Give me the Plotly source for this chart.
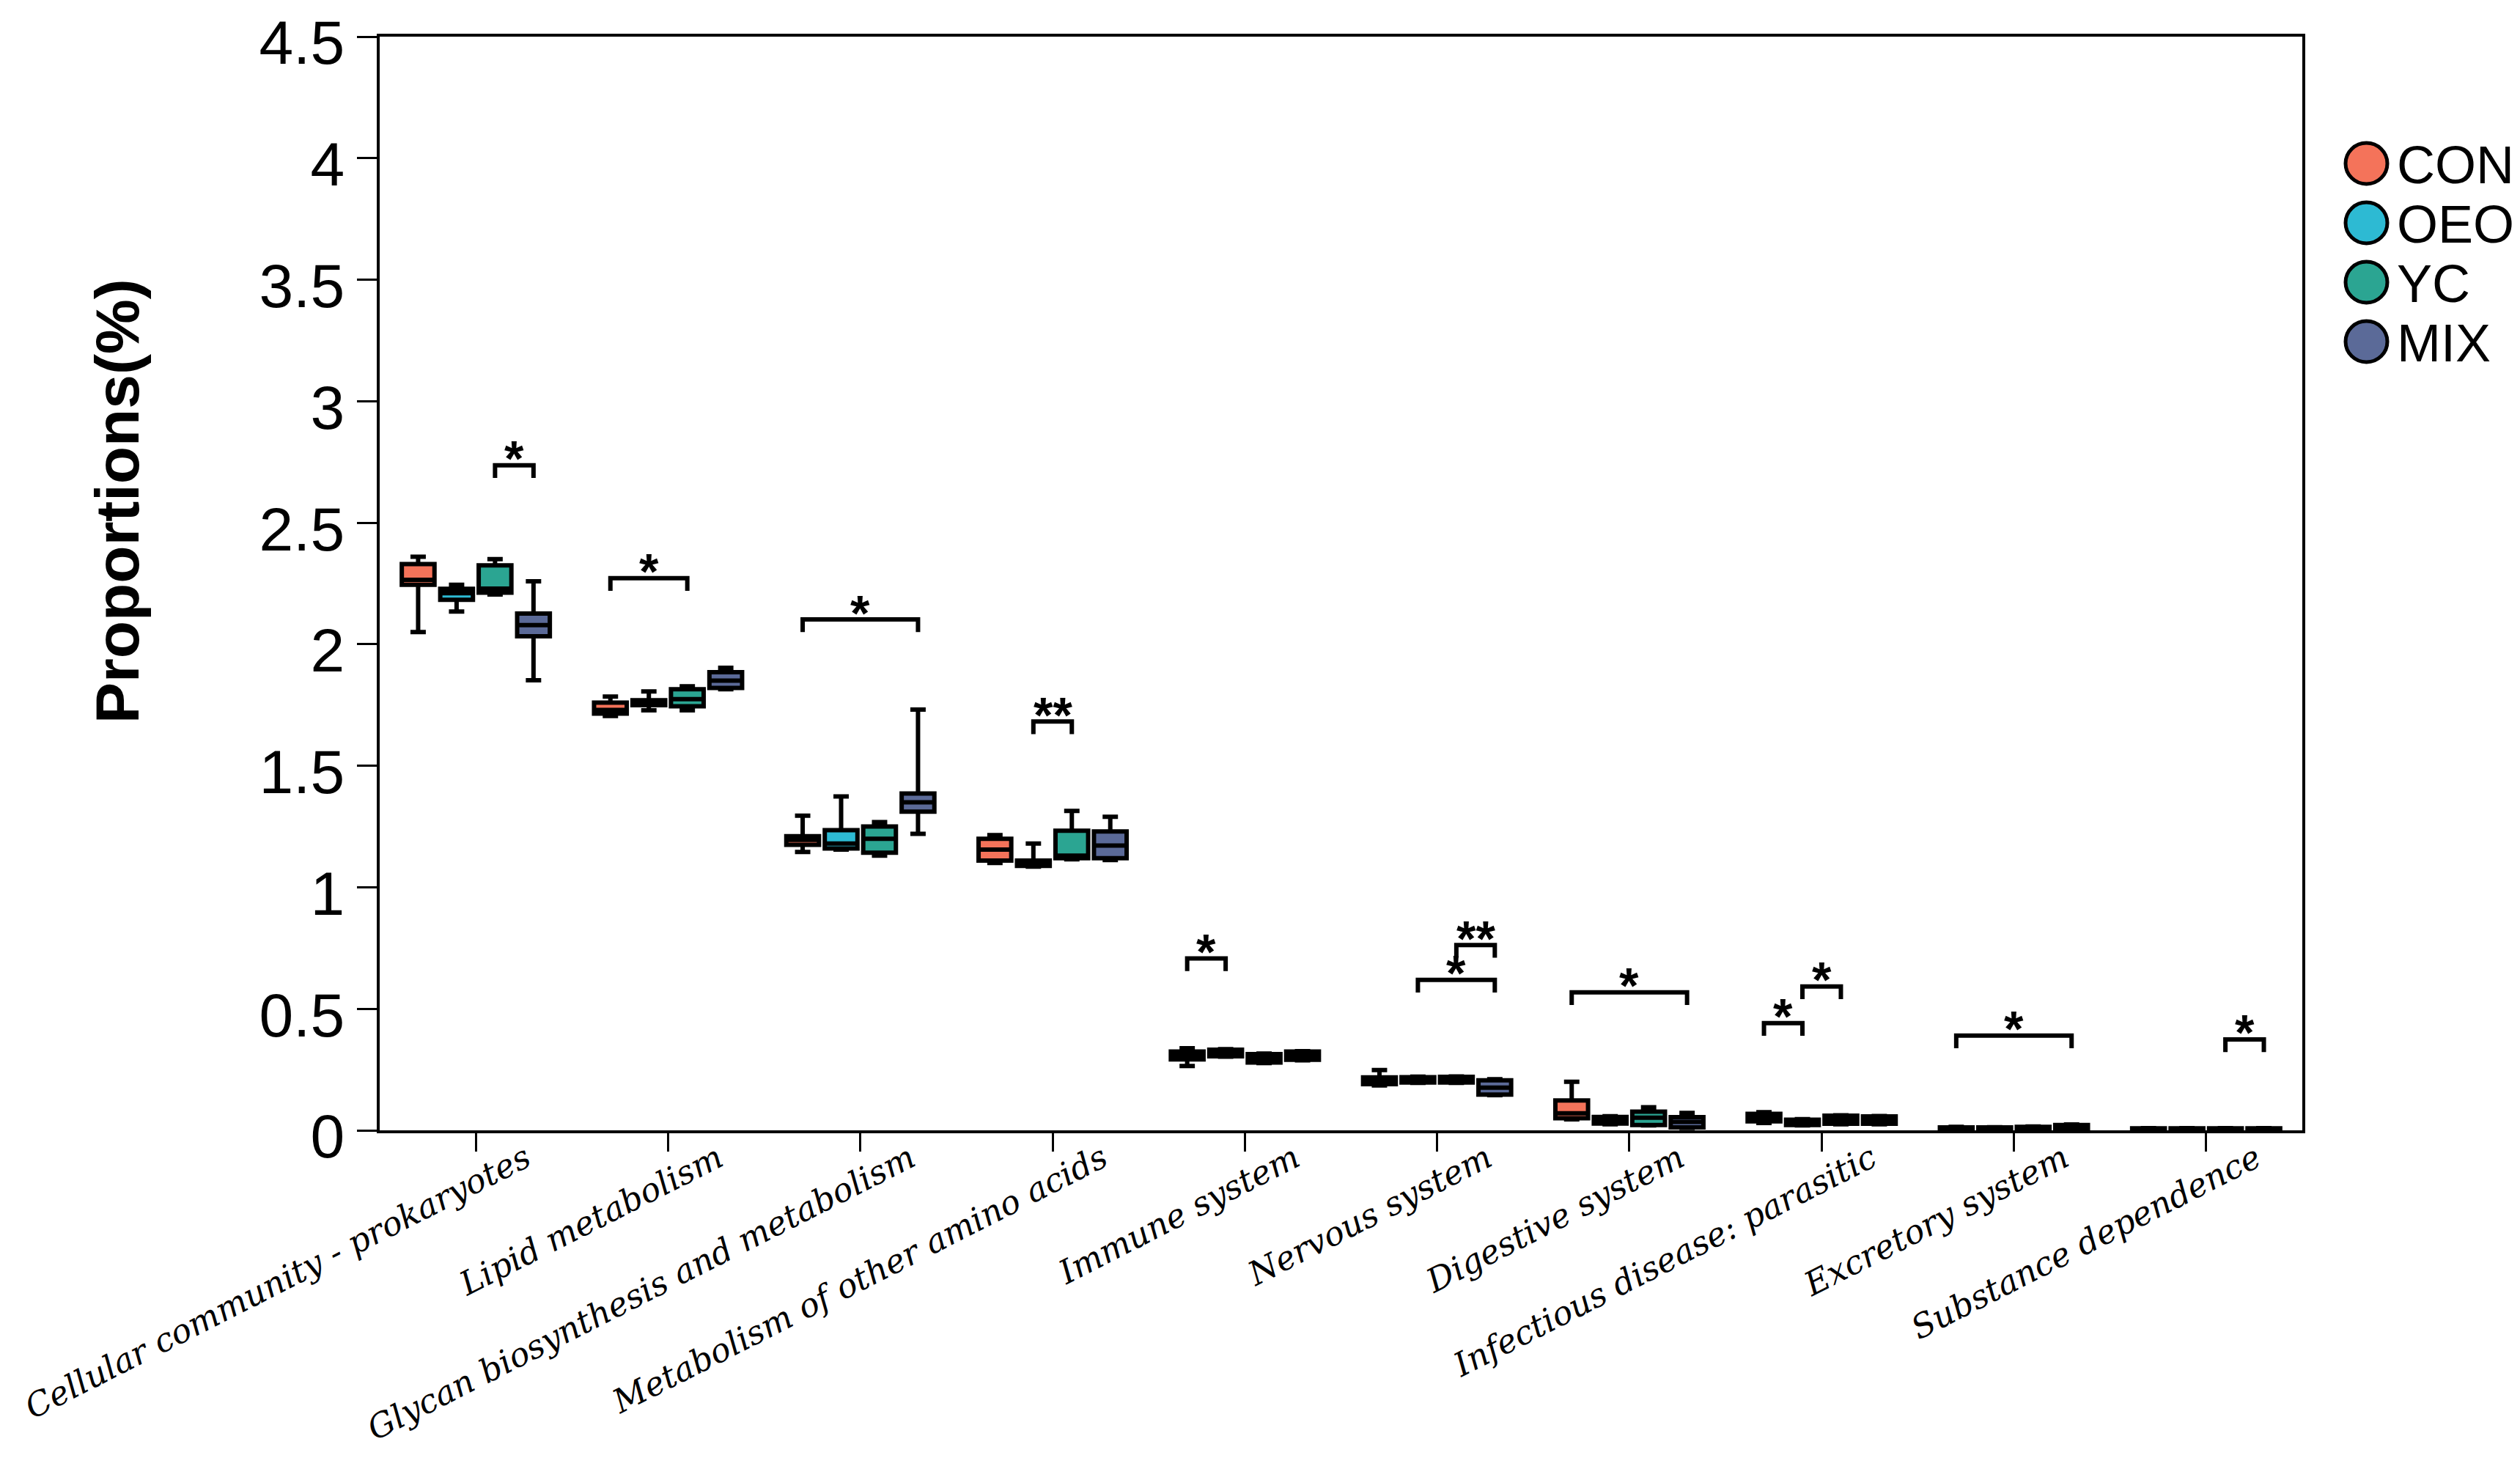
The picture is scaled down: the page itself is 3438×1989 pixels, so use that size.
import plotly.graph_objects as go

categories = [
    "Cellular community - prokaryotes", "Lipid metabolism",
    "Glycan biosynthesis and metabolism", "Metabolism of other amino acids",
    "Immune system", "Nervous system", "Digestive system",
    "Infectious disease: parasitic", "Excretory system", "Substance dependence",
]
groups = ["CON", "OEO", "YC", "MIX"]
colors = ["#F4735A", "#2DBAD3", "#2BA592", "#5B6A98"]

con_lf = [2.050, 1.705, 1.145, 1.100, 0.265, 0.185, 0.045, 0.030, 0.002, 0.001]
con_q1 = [2.245, 1.715, 1.175, 1.110, 0.292, 0.190, 0.050, 0.037, 0.004, 0.002]
con_md = [2.265, 1.730, 1.195, 1.155, 0.310, 0.205, 0.070, 0.055, 0.007, 0.004]
con_q3 = [2.330, 1.760, 1.210, 1.200, 0.324, 0.218, 0.123, 0.068, 0.012, 0.008]
con_uf = [2.360, 1.785, 1.295, 1.215, 0.338, 0.248, 0.200, 0.075, 0.014, 0.009]

oeo_lf = [2.135, 1.728, 1.155, 1.085, 0.303, 0.195, 0.025, 0.020, 0.003, 0.001]
oeo_q1 = [2.183, 1.749, 1.160, 1.088, 0.305, 0.197, 0.028, 0.022, 0.005, 0.002]
oeo_md = [2.210, 1.760, 1.180, 1.095, 0.318, 0.209, 0.040, 0.033, 0.008, 0.004]
oeo_q3 = [2.228, 1.770, 1.235, 1.110, 0.332, 0.219, 0.055, 0.044, 0.012, 0.008]
oeo_uf = [2.245, 1.806, 1.374, 1.180, 0.334, 0.221, 0.058, 0.046, 0.013, 0.009]

yc_lf = [2.205, 1.728, 1.130, 1.115, 0.277, 0.195, 0.020, 0.025, 0.003, 0.001]
yc_q1 = [2.212, 1.745, 1.142, 1.120, 0.279, 0.197, 0.022, 0.027, 0.005, 0.002]
yc_md = [2.229, 1.774, 1.200, 1.130, 0.297, 0.210, 0.052, 0.045, 0.009, 0.004]
yc_q3 = [2.325, 1.815, 1.250, 1.233, 0.314, 0.220, 0.077, 0.060, 0.014, 0.008]
yc_uf = [2.350, 1.827, 1.268, 1.314, 0.316, 0.222, 0.095, 0.062, 0.016, 0.009]

mix_lf = [1.852, 1.815, 1.220, 1.112, 0.288, 0.145, 0.010, 0.025, 0.006, 0.001]
mix_q1 = [2.033, 1.820, 1.311, 1.120, 0.290, 0.147, 0.012, 0.027, 0.008, 0.002]
mix_md = [2.079, 1.850, 1.350, 1.172, 0.308, 0.176, 0.035, 0.045, 0.014, 0.004]
mix_q3 = [2.126, 1.885, 1.386, 1.230, 0.324, 0.206, 0.054, 0.057, 0.022, 0.008]
mix_uf = [2.259, 1.903, 1.731, 1.290, 0.326, 0.210, 0.072, 0.059, 0.024, 0.009]

# significance brackets: category index, from group, to group, bracket height, label
sig_cat = [0, 1, 2, 3, 4, 5, 5, 6, 7, 7, 8, 9]
sig_from = [2, 0, 0, 1, 0, 1, 2, 0, 0, 1, 0, 2]
sig_to = [3, 2, 3, 2, 1, 3, 3, 3, 1, 2, 3, 3]
sig_y = [2.736, 2.272, 2.102, 1.682, 0.707, 0.619, 0.762, 0.568, 0.441, 0.592, 0.390, 0.374]
sig_label = ["*", "*", "*", "**", "*", "*", "**", "*", "*", "*", "*", "*"]

y_ticks = [0, 0.5, 1, 1.5, 2, 2.5, 3, 3.5, 4, 4.5]

stats = [
    (con_lf, con_q1, con_md, con_q3, con_uf),
    (oeo_lf, oeo_q1, oeo_md, oeo_q3, oeo_uf),
    (yc_lf, yc_q1, yc_md, yc_q3, yc_uf),
    (mix_lf, mix_q1, mix_md, mix_q3, mix_uf),
]

W, H = 3438, 1989
ML, MR, MT, MB = 510, 305, 42, 455
PW, PH = W - ML - MR, H - MT - MB

BOXGAP = 0.2
slot = (1 - BOXGAP) / len(groups)
offsets = [-(1 - BOXGAP) / 2 + slot * (i + 0.5) for i in range(len(groups))]

fig = go.Figure()
xs = list(range(len(categories)))
for g, name in enumerate(groups):
    lf, q1, md, q3, uf = stats[g]
    fig.add_trace(go.Box(
        x=xs, lowerfence=lf, q1=q1, median=md, q3=q3, upperfence=uf,
        name=name, fillcolor=colors[g],
        line=dict(color="black", width=6),
        whiskerwidth=0.47, showlegend=False, boxpoints=False,
    ))

# brackets
LEG = 0.052
bx, by = [], []
for c, a, b, yv in zip(sig_cat, sig_from, sig_to, sig_y):
    x0 = c + offsets[a]
    x1 = c + offsets[b]
    bx += [x0, x0, x1, x1, None]
    by += [yv - LEG, yv, yv, yv - LEG, None]
fig.add_trace(go.Scatter(x=bx, y=by, mode="lines",
                         line=dict(color="black", width=6),
                         showlegend=False, hoverinfo="skip"))

annotations = []
for c, a, b, yv, lab in zip(sig_cat, sig_from, sig_to, sig_y, sig_label):
    xm = c + (offsets[a] + offsets[b]) / 2
    annotations.append(dict(
        x=xm, y=yv + 0.065, xref="x", yref="y", text=lab, showarrow=False,
        font=dict(family="Liberation Sans", size=68, color="black", weight="bold"),
        xanchor="center", yanchor="middle", yshift=-12,
    ))

# y-axis title
def px_to_paper(px, py):
    return (px - ML) / PW, (H - MB - py) / PH

tx, ty = px_to_paper(152, 676)
annotations.append(dict(
    x=tx, y=ty, xref="paper", yref="paper", text="Proportions(%)",
    textangle=-90, showarrow=False, xanchor="center", yanchor="middle",
    font=dict(family="Liberation Sans", size=84, color="black", weight="bold"),
))

# manual legend
shapes = []
legend_rows = [215, 296, 377, 458]
for g, name in enumerate(groups):
    cy = legend_rows[g]
    x0, y0 = px_to_paper(3192, cy + 28)
    x1, y1 = px_to_paper(3249, cy - 28)
    shapes.append(dict(type="circle", xref="paper", yref="paper",
                       x0=x0, y0=y0, x1=x1, y1=y1,
                       fillcolor=colors[g], line=dict(color="black", width=5)))
    lx, ly = px_to_paper(3260, cy + 2)
    annotations.append(dict(
        x=lx, y=ly, xref="paper", yref="paper", text=name, showarrow=False,
        xanchor="left", yanchor="middle",
        font=dict(family="Liberation Sans", size=72, color="black"),
    ))

fig.update_layout(
    width=W, height=H,
    margin=dict(l=ML, r=MR, t=MT, b=MB, autoexpand=False),
    paper_bgcolor="white", plot_bgcolor="white",
    boxmode="group", boxgap=BOXGAP, boxgroupgap=0.15,
    annotations=annotations, shapes=shapes,
    showlegend=False,
)
fig.update_xaxes(
    range=[-0.5, len(categories) - 0.5], tickmode="array",
    tickvals=xs, ticktext=categories, tickangle=-27,
    showline=True, linewidth=4, linecolor="black", mirror=True,
    ticks="outside", ticklen=25, tickwidth=3, tickcolor="black",
    showgrid=False, zeroline=False, ticklabeloverflow="allow",
    tickfont=dict(family="DejaVu Serif", size=45, color="black", style="italic"),
    ticklabelshift=68, ticklabelstandoff=-34,
)
fig.update_yaxes(
    range=[0, 4.5], tickmode="array", tickvals=y_ticks,
    ticktext=[f"{v:g}" for v in y_ticks],
    showline=True, linewidth=4, linecolor="black", mirror=True,
    ticks="outside", ticklen=27, tickwidth=3, tickcolor="black",
    showgrid=False, zeroline=False, ticklabeloverflow="allow",
    ticklabelshift=8,
    tickfont=dict(family="Liberation Sans", size=84, color="black"),
)

fig.write_html("out.html")
